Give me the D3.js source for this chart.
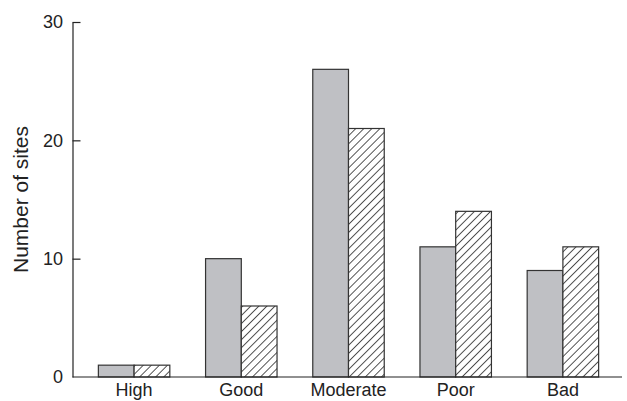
<!DOCTYPE html>
<html>
<head>
<meta charset="utf-8">
<script src="https://cdn.jsdelivr.net/npm/d3@7"></script>
<style>
  html, body { margin: 0; padding: 0; background: #fff; }
  svg { display: block; font-family: "Liberation Sans", Arial, sans-serif; }
</style>
</head>
<body>
<svg id="chart" width="627" height="401"></svg>
<script>
// Ecological status classes and site counts for the two surveys
const categories = ["High", "Good", "Moderate", "Poor", "Bad"];
const seriesA = [1, 10, 26, 11, 9];   // solid grey bars
const seriesB = [1, 6, 21, 14, 11];   // hatched bars
const yTicks = [0, 10, 20, 30];

const svg = d3.select("#chart");
const axisX0 = 72.5, axisY0 = 377;
const font = "Liberation Sans, Arial, sans-serif";

const x = d3.scaleBand()
  .domain(categories)
  .range([80.5, 616.5])
  .paddingInner(1 / 3)
  .paddingOuter(1 / 6);

const y = d3.scaleLinear().domain([0, 30]).range([axisY0, 22]);

// diagonal hatch pattern
const defs = svg.append("defs");
const pat = defs.append("pattern")
  .attr("id", "hatch")
  .attr("patternUnits", "userSpaceOnUse")
  .attr("width", 5.7)
  .attr("height", 5.7)
  .attr("patternTransform", "rotate(45)");
pat.append("rect").attr("width", 5.7).attr("height", 5.7).attr("fill", "#fff");
pat.append("line")
  .attr("x1", 0).attr("y1", 0).attr("x2", 0).attr("y2", 5.7)
  .attr("stroke", "#2a2a2a").attr("stroke-width", 1.6);

const sub = d3.scaleBand().domain(["A", "B"]).range([0, x.bandwidth()]);

const rows = categories.map((c, i) => ({ c, a: seriesA[i], b: seriesB[i] }));

const g = svg.append("g");
g.selectAll("rect.a").data(rows).join("rect")
  .attr("class", "a")
  .attr("x", d => x(d.c) + sub("A"))
  .attr("y", d => y(d.a))
  .attr("width", sub.bandwidth())
  .attr("height", d => y(0) - y(d.a))
  .attr("fill", "#bfc0c4")
  .attr("stroke", "#333")
  .attr("stroke-width", 1.2);

g.selectAll("rect.b").data(rows).join("rect")
  .attr("class", "b")
  .attr("x", d => x(d.c) + sub("B"))
  .attr("y", d => y(d.b))
  .attr("width", sub.bandwidth())
  .attr("height", d => y(0) - y(d.b))
  .attr("fill", "url(#hatch)")
  .attr("stroke", "#333")
  .attr("stroke-width", 1.2);

// y axis with inward ticks
const yAxis = d3.axisLeft(y).tickValues(yTicks).tickSizeInner(-8).tickSizeOuter(0).tickPadding(9.5);
const ya = svg.append("g").attr("transform", `translate(${axisX0},0)`).call(yAxis);
ya.attr("font-size", 18).attr("font-family", font);
ya.select(".domain").attr("stroke", "#222").attr("stroke-width", 1.2);
ya.selectAll(".tick line").attr("stroke", "#222").attr("stroke-width", 1.2);
ya.selectAll(".tick text").attr("fill", "#222");
ya.selectAll(".tick").filter(d => d === 0).select("line").remove();

// x axis (no tick marks)
const xAxis = d3.axisBottom(x).tickSize(0).tickPadding(6);
const xa = svg.append("g").attr("transform", `translate(0,${axisY0})`).call(xAxis);
xa.attr("font-size", 18).attr("font-family", font);
xa.select(".domain").remove();
xa.append("line").attr("x1", axisX0).attr("x2", 622).attr("y1", 0).attr("y2", 0)
  .attr("stroke", "#222").attr("stroke-width", 1.2);
xa.selectAll(".tick text").attr("fill", "#222");

// y axis title
svg.append("text")
  .attr("transform", `translate(27.5,${y(15)}) rotate(-90)`)
  .attr("text-anchor", "middle")
  .attr("font-size", 21)
  .attr("font-family", font)
  .attr("fill", "#222")
  .text("Number of sites");
</script>
</body>
</html>
